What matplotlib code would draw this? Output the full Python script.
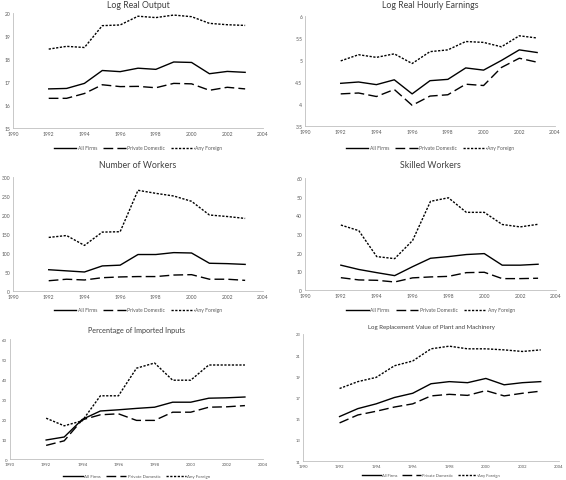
#Import libraries
import matplotlib
matplotlib.use('Agg')
import matplotlib.pyplot as plt

plt.rcParams['font.family'] = ['Lato', 'DejaVu Sans']

years = [1992, 1993, 1994, 1995, 1996, 1997, 1998, 1999, 2000, 2001, 2002, 2003]
series_names = ['All Firms', 'Private Domestic', 'Any Foreign']

#Log Real Output
output_all = [16.70, 16.72, 16.94, 17.50, 17.45, 17.60, 17.55, 17.87, 17.85, 17.36, 17.46, 17.42]
output_dom = [16.29, 16.29, 16.50, 16.88, 16.80, 16.81, 16.75, 16.94, 16.92, 16.64, 16.77, 16.70]
output_for = [18.43, 18.55, 18.50, 19.45, 19.48, 19.86, 19.80, 19.91, 19.84, 19.55, 19.49, 19.46]

#Log Real Hourly Earnings
earn_all = [4.47, 4.50, 4.44, 4.55, 4.23, 4.53, 4.56, 4.82, 4.77, 4.99, 5.23, 5.17]
earn_dom = [4.23, 4.25, 4.17, 4.33, 3.97, 4.18, 4.21, 4.45, 4.42, 4.83, 5.04, 4.95]
earn_for = [4.98, 5.12, 5.06, 5.14, 4.92, 5.19, 5.23, 5.42, 5.40, 5.30, 5.55, 5.50]

#Number of Workers
workers_all = [56, 53, 50, 66, 68, 96, 96, 101, 100, 73, 72, 70]
workers_dom = [27, 31, 29, 35, 37, 38, 38, 42, 43, 31, 31, 28]
workers_for = [141, 146, 120, 155, 156, 265, 257, 250, 236, 200, 196, 191]

#Skilled Workers
skilled_all = [13.3, 11.0, 9.3, 7.7, 12.5, 17.0, 17.9, 19.0, 19.5, 13.3, 13.3, 13.8]
skilled_dom = [6.6, 5.4, 5.2, 4.3, 6.5, 7.0, 7.3, 9.3, 9.5, 6.1, 6.1, 6.3]
skilled_for = [34.8, 31.8, 17.9, 16.8, 26.5, 47.5, 49.4, 41.6, 41.6, 35.1, 33.8, 35.2]

#Percentage of Imported Inputs
imported_all = [9.5, 11.0, 19.8, 24.0, 24.6, 25.3, 25.9, 28.4, 28.4, 30.4, 30.6, 31.0]
imported_dom = [6.8, 9.1, 19.6, 22.1, 22.6, 19.3, 19.3, 23.4, 23.4, 25.9, 26.1, 26.7]
imported_for = [20.4, 16.6, 19.1, 31.6, 31.6, 45.4, 48.0, 39.4, 39.4, 47.0, 47.0, 47.0]

#Log Replacement Value of Plant and Machinery
capital_all = [15.2, 15.95, 16.4, 17.0, 17.4, 18.3, 18.5, 18.4, 18.8, 18.2, 18.4, 18.5]
capital_dom = [14.6, 15.35, 15.7, 16.1, 16.4, 17.15, 17.3, 17.2, 17.65, 17.15, 17.4, 17.6]
capital_for = [17.85, 18.5, 18.9, 20.0, 20.45, 21.6, 21.85, 21.6, 21.6, 21.5, 21.35, 21.5]

W, H = 566, 481
fig = plt.figure(figsize=(W / 100, H / 100), dpi=100)

styles = [dict(linestyle='-', lw=1.0),
          dict(linestyle=(0, (7, 3)), lw=1.0),
          dict(linestyle=(0, (1.6, 1.1)), lw=1.0)]


#Create a function to draw one excel-like panel, box given in pixels
def panel(box, title, data, ylim, ystep, title_y, legend_y, title_size=6.3, small=3.6):
    l, t, r, b = box
    ax = fig.add_axes([l / W, 1 - b / H, (r - l) / W, (b - t) / H])
    for vals, st in zip(data, styles):
        ax.plot(years, vals, color='black', **st)
    ax.set_xlim(1990, 2004)
    ax.set_ylim(*ylim)
    ax.set_xticks(range(1990, 2005, 2))
    yt = []
    v = ylim[0]
    while v <= ylim[1] + 1e-9:
        yt.append(v)
        v += ystep
    ax.set_yticks(yt)
    ax.set_yticklabels(['{:g}'.format(y) for y in yt])
    for s in ['top', 'right']:
        ax.spines[s].set_visible(False)
    for s in ['left', 'bottom']:
        ax.spines[s].set_color('#bfbfbf')
        ax.spines[s].set_linewidth(0.6)
    ax.tick_params(length=0, labelsize=small, colors='#595959', pad=2)
    cx = (l + r) / 2 / W
    fig.text(cx, 1 - title_y / H, title, ha='center', va='center',
             fontsize=title_size, color='#404040')
    leg = fig.legend(ax.get_lines(), series_names, loc='center',
                     bbox_to_anchor=(cx, 1 - legend_y / H), ncol=3,
                     frameon=False, fontsize=small, handlelength=4.5,
                     columnspacing=1.2, handletextpad=0.3)
    for txt in leg.get_texts():
        txt.set_color('#595959')
    return ax


panel((13, 14, 263, 129), 'Log Real Output',
      [output_all, output_dom, output_for], (15, 20), 1, 5, 149)
panel((305, 17, 555, 127), 'Log Real Hourly Earnings',
      [earn_all, earn_dom, earn_for], (3.5, 6), 0.5, 5, 149)
panel((13, 178, 263, 292), 'Number of Workers',
      [workers_all, workers_dom, workers_for], (0, 300), 50, 166, 311)
panel((305, 179, 556, 291), 'Skilled Workers',
      [skilled_all, skilled_dom, skilled_for], (0, 60), 10, 166, 311)
panel((10, 340, 263, 460), 'Percentage of Imported Inputs',
      [imported_all, imported_dom, imported_for], (0, 60), 10, 330, 477,
      title_size=5.2, small=3.2)
panel((303, 335, 559, 462), 'Log Replacement Value of Plant and Machinery',
      [capital_all, capital_dom, capital_for], (11, 23), 2, 328, 476,
      title_size=4.4, small=3.0)

fig.savefig('out.png', dpi=100)
